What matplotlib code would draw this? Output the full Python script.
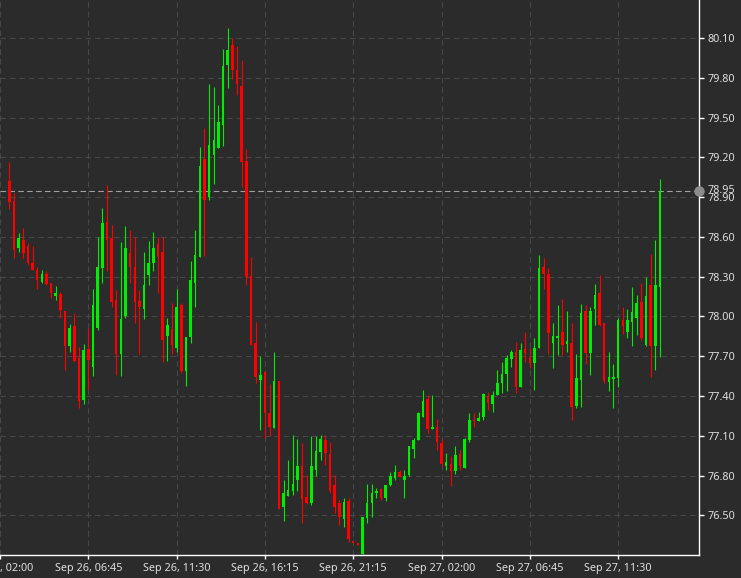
import matplotlib
matplotlib.use("Agg")
import matplotlib.pyplot as plt
import numpy as np

# 15-minute candles, Sep 26 - Sep 27
opens = [79.02, 78.87, 78.515, 78.58, 78.53, 78.40, 78.35, 78.26, 78.32, 78.255,
         78.157, 78.17, 78.04, 77.78, 77.925, 77.685, 77.37, 77.755, 77.62, 77.91,
         78.365, 78.715, 78.59, 78.125, 77.72, 78.00, 78.48, 78.375, 78.12, 78.055,
         78.315, 78.405, 78.545, 78.485, 77.85, 77.905, 77.76, 78.085, 77.59, 77.845,
         78.25, 78.445, 79.19, 78.90, 79.22, 79.27, 79.445, 79.895, 80.05, 79.86,
         79.735, 79.17, 78.305, 77.80, 77.52, 77.58, 77.275, 77.16, 77.515, 76.565,
         76.645, 76.685, 76.765, 76.875, 76.635, 76.595, 76.845, 76.98, 77.07, 76.965,
         76.73, 76.595, 76.475, 76.605, 76.305, 76.29, 76.21, 76.48, 76.59, 76.665,
         76.70, 76.63, 76.73, 76.785, 76.825, 76.77, 76.805, 77.00, 77.07, 77.245,
         77.375, 77.155, 77.165, 77.045, 76.87, 76.885, 76.835, 76.96, 76.86, 77.07,
         77.22, 77.21, 77.24, 77.40, 77.34, 77.41, 77.50, 77.565, 77.68, 77.735,
         77.47, 77.755, 77.685, 77.65, 77.76, 78.375, 78.32, 77.80, 77.84, 77.88,
         77.79, 77.80, 77.325, 77.52, 78.045, 77.725, 78.055, 78.175, 77.95, 77.505,
         77.53, 77.535, 77.97, 77.885, 77.955, 77.99, 78.11, 77.785, 78.235, 77.775,
         78.225]
highs = [79.165, 78.93, 78.63, 78.67, 78.555, 78.53, 78.375, 78.35, 78.34, 78.255,
         78.23, 78.185, 78.04, 77.94, 78.03, 77.77, 77.79, 77.915, 78.205, 78.60,
         78.815, 78.99, 78.69, 78.20, 78.565, 78.68, 78.655, 78.60, 78.20, 78.485,
         78.57, 78.635, 78.60, 78.60, 77.985, 78.10, 78.21, 78.10, 77.845, 78.42,
         78.655, 79.28, 79.42, 79.755, 79.73, 79.595, 80.015, 80.175, 80.10, 80.04,
         79.935, 79.26, 78.445, 77.96, 77.70, 77.59, 77.49, 77.73, 77.515, 76.765,
         76.92, 77.105, 77.075, 77.045, 76.805, 77.10, 77.10, 77.105, 77.105, 77.05,
         76.805, 76.615, 76.63, 76.63, 76.31, 76.29, 76.485, 76.735, 76.735, 76.71,
         76.71, 76.73, 76.83, 76.88, 76.845, 76.84, 77.02, 77.08, 77.28, 77.445,
         77.41, 77.41, 77.225, 77.075, 76.97, 76.945, 77.025, 76.99, 77.085, 77.27,
         77.27, 77.28, 77.425, 77.43, 77.435, 77.60, 77.66, 77.71, 77.745, 77.81,
         77.80, 77.885, 77.76, 77.835, 78.465, 78.44, 78.365, 77.95, 78.085, 78.135,
         78.04, 77.95, 77.72, 78.095, 78.085, 78.075, 78.245, 78.315, 77.95, 77.735,
         77.64, 77.985, 78.075, 78.06, 78.225, 78.16, 78.255, 78.295, 78.475, 78.575,
         79.035]
lows = [78.81, 78.44, 78.485, 78.44, 78.39, 78.35, 78.21, 78.25, 78.24, 78.14,
        78.125, 77.99, 77.60, 77.735, 77.66, 77.31, 77.34, 77.445, 77.55, 77.90,
        78.25, 78.34, 78.075, 77.56, 77.55, 77.99, 78.25, 77.95, 77.72, 77.98,
        78.24, 78.345, 78.175, 77.66, 77.665, 77.72, 77.735, 77.575, 77.475, 77.80,
        78.07, 78.445, 78.455, 78.88, 79.00, 79.27, 79.285, 79.72, 79.79, 79.67,
        78.98, 78.24, 77.785, 77.495, 77.145, 77.085, 77.095, 77.16, 76.545, 76.46,
        76.645, 76.655, 76.685, 76.44, 76.585, 76.58, 76.80, 76.915, 76.88, 76.665,
        76.515, 76.43, 76.41, 76.30, 76.29, 76.275, 76.21, 76.445, 76.49, 76.63,
        76.615, 76.605, 76.72, 76.765, 76.79, 76.63, 76.795, 76.93, 77.065, 77.245,
        77.12, 77.155, 76.995, 76.87, 76.845, 76.72, 76.815, 76.84, 76.855, 77.055,
        77.17, 77.21, 77.22, 77.295, 77.28, 77.41, 77.42, 77.44, 77.62, 77.425,
        77.47, 77.66, 77.615, 77.445, 77.76, 78.21, 77.72, 77.61, 77.71, 77.71,
        77.735, 77.22, 77.31, 77.32, 77.645, 77.56, 77.935, 77.93, 77.50, 77.435,
        77.31, 77.47, 77.865, 77.835, 77.78, 77.86, 77.82, 77.775, 77.54, 77.60,
        77.695]
closes = [78.86, 78.50, 78.59, 78.48, 78.40, 78.35, 78.275, 78.32, 78.245, 78.175,
          78.175, 78.05, 77.775, 77.91, 77.665, 77.36, 77.75, 77.67, 78.085, 78.375,
          78.705, 78.575, 78.11, 77.72, 77.98, 78.515, 78.375, 78.11, 78.075, 78.24,
          78.405, 78.515, 78.445, 77.825, 77.935, 77.785, 78.075, 77.59, 77.845, 78.275,
          78.465, 79.135, 78.88, 79.295, 79.33, 79.47, 79.89, 80.01, 79.86, 79.755,
          79.165, 78.30, 77.785, 77.545, 77.56, 77.27, 77.17, 77.515, 76.55, 76.665,
          76.69, 76.735, 76.87, 76.62, 76.59, 76.875, 76.985, 77.075, 76.97, 76.685,
          76.565, 76.485, 76.60, 76.32, 76.29, 76.28, 76.485, 76.59, 76.67, 76.685,
          76.63, 76.73, 76.795, 76.825, 76.79, 76.80, 77.02, 77.065, 77.27, 77.36,
          77.155, 77.165, 77.055, 76.89, 76.90, 76.835, 76.955, 76.87, 77.075, 77.22,
          77.21, 77.235, 77.415, 77.35, 77.41, 77.495, 77.565, 77.69, 77.735, 77.47,
          77.745, 77.725, 77.65, 77.76, 78.365, 78.32, 77.875, 77.85, 77.855, 77.785,
          77.815, 77.32, 77.535, 78.03, 77.725, 78.045, 78.16, 77.935, 77.51, 77.54,
          77.545, 77.975, 77.925, 77.975, 78.035, 78.105, 77.835, 78.155, 77.775, 78.235,
          78.95]

# candle index of each time label (one label every 19 candles)
tick_idx = [-2, 17, 36, 55, 74, 93, 112, 131]
tick_labels = ["Sep 26, 02:00", "Sep 26, 06:45", "Sep 26, 11:30", "Sep 26, 16:15",
               "Sep 26, 21:15", "Sep 27, 02:00", "Sep 27, 06:45", "Sep 27, 11:30"]
price_ticks = [76.50, 76.80, 77.10, 77.40, 77.70, 78.00, 78.30, 78.60, 78.90,
               79.20, 79.50, 79.80, 80.10]
last_price = 78.95

BG = "#2a2b2a"
UP = "#00ee00"
DOWN = "#ff0000"
TXT = "#dedede"
GRID = "#464746"


def main():
    plt.rcParams["font.family"] = ["Noto Sans", "DejaVu Sans"]

    o = np.array(opens)
    h = np.array(highs)
    l = np.array(lows)
    c = np.array(closes)
    x = np.arange(len(o))
    colors = np.where(c >= o, UP, DOWN)

    fig = plt.figure(figsize=(7.41, 5.78), dpi=100)
    fig.patch.set_facecolor(BG)
    ax = fig.add_axes([0, 23 / 578, 699 / 741, 555 / 578])
    ax.set_facecolor(BG)

    # grid
    for t in price_ticks:
        ax.axhline(t, color=GRID, lw=0.8, ls=(0, (5, 3.5)), zorder=0)
    for t in tick_idx:
        ax.axvline(t, color=GRID, lw=0.8, ls=(0, (5, 3.5)), zorder=0)

    # last price line
    ax.axhline(last_price, color="#a0a0a0", lw=0.8, ls=(0, (5, 3)), zorder=1)

    # candles
    ax.vlines(x, l, h, colors=colors, lw=0.8, zorder=2)
    body_low = np.minimum(o, c)
    body_h = np.maximum(np.abs(c - o), 0.008)
    ax.bar(x, body_h, bottom=body_low, width=0.55, color=colors, lw=0, zorder=3)

    ax.set_xlim(-0.276, 148.4)
    ax.set_ylim(76.201, 80.387)

    ax.yaxis.tick_right()
    ax.set_yticks(price_ticks)
    ax.set_yticklabels([f"{v:.2f}" for v in price_ticks])
    ax.set_xticks(tick_idx)
    ax.set_xticklabels(tick_labels)

    for s in ["top", "left"]:
        ax.spines[s].set_visible(False)
    for s in ["right", "bottom"]:
        ax.spines[s].set_color("white")
        ax.spines[s].set_linewidth(1.0)

    ax.tick_params(axis="y", colors="white", labelcolor=TXT, length=3.5, width=1,
                   pad=2.5, labelsize=7.8)
    ax.tick_params(axis="x", colors="white", labelcolor=TXT, length=3, width=1,
                   pad=3, labelsize=7.8)

    # marker + label for last price
    ax.plot([1], [last_price], "o", color="#8c8c8c", ms=6.5,
            transform=ax.get_yaxis_transform(), clip_on=False, zorder=5)
    ax.annotate(f"{last_price:.2f}", xy=(1, last_price),
                xycoords=ax.get_yaxis_transform(), xytext=(6, 0),
                textcoords="offset points", va="center", ha="left",
                color=TXT, fontsize=7.8, annotation_clip=False)

    fig.savefig("out.png", dpi=100, facecolor=BG)
    plt.close(fig)


if __name__ == "__main__":
    main()
